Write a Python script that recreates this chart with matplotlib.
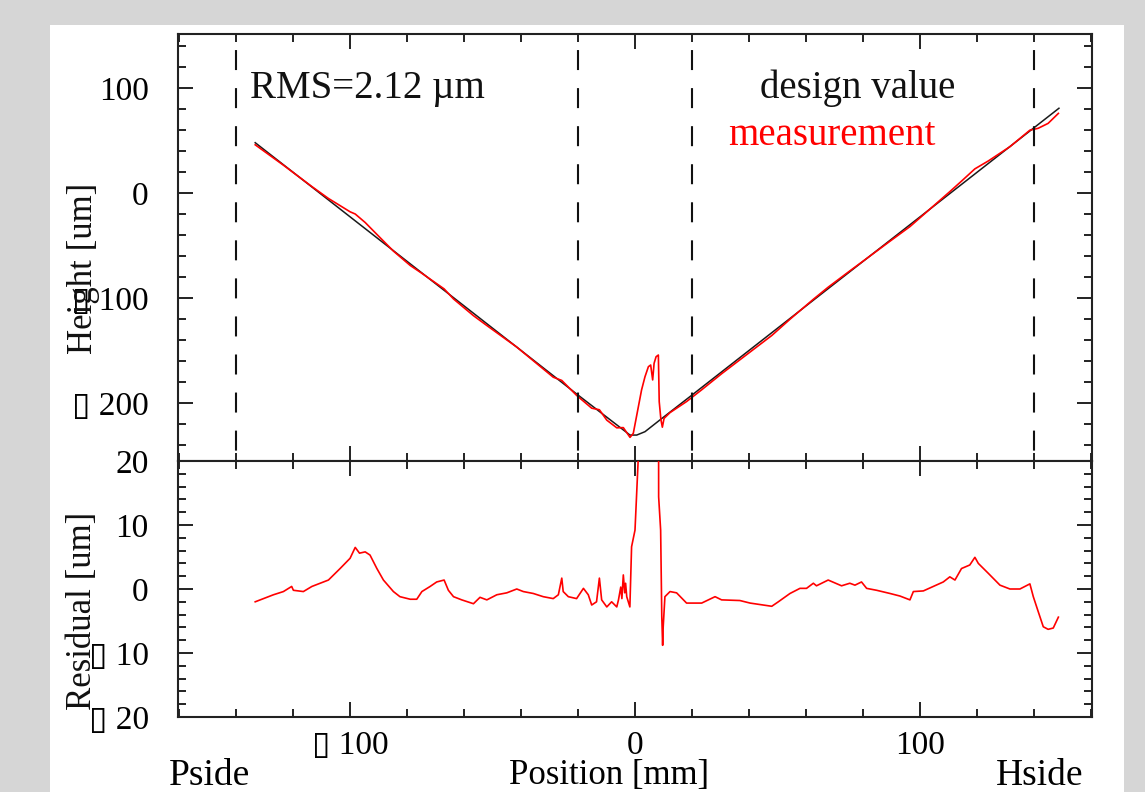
import matplotlib
matplotlib.use('Agg')
import matplotlib.pyplot as plt
from matplotlib.patches import Rectangle
from matplotlib.ticker import MultipleLocator, FixedLocator, FixedFormatter

plt.rcParams['font.family'] = ['Liberation Serif', 'DejaVu Sans']
plt.rcParams['lines.scale_dashes'] = False

# ---------------- data ----------------
design_x = [-133.3, -100.0, -50.0, -20.0, -1.75, 0.6, 3.5, 8.8, 20.0, 50.0, 100.0, 148.8]
design_y = [47.9, -22.7, -128.7, -192.4, -230.5, -230.5, -227.3, -216.0, -192.4, -128.8, -22.8, 80.7]

meas_x = [-133.3, -123.4, -113.4, -107.6, -100.0, -98.2, -94.7, -90.6, -84.8, -78.9,
          -74.8, -67.0, -63.7, -56.7, -52.0, -45.0, -41.5, -35.7, -28.7, -25.7,
          -20.5, -15.2, -12.5, -9.9, -6.4, -4.1, -1.75, -0.6, 2.3, 3.5,
          4.7, 5.5, 6.2, 6.7, 7.4, 8.2, 8.5, 9.1, 9.6, 10.2,
          12.3, 18.1, 23.4, 30.4, 40.4, 48.0, 54.4, 62.6, 67.8, 75.4,
          81.3, 89.5, 96.5, 104.7, 110.5, 114.6, 119.3, 124.0, 131.6, 138.6,
          141.5, 145.0, 148.6]
meas_y = [45.9, 26.5, 6.1, -5.2, -17.9, -20.0, -28.1, -39.4, -55.3, -69.0,
          -76.5, -91.3, -100.9, -116.8, -126.2, -139.9, -146.7, -159.7, -175.4, -178.5,
          -192.7, -204.9, -206.4, -216.3, -223.6, -223.4, -232.7, -228.9, -187.6, -175.0,
          -165.4, -163.8, -178.0, -162.2, -155.9, -154.3, -198.7, -216.0, -223.0, -214.6,
          -209.1, -198.6, -187.4, -172.1, -151.4, -135.7, -120.2, -101.2, -89.7, -74.2,
          -62.4, -45.9, -32.0, -12.5, 1.3, 11.3, 23.0, 30.5, 44.1, 59.8,
          61.6, 66.3, 75.8]

res_x = [-133.3, -126.9, -123.4, -120.5, -119.9, -116.4, -113.4, -110.5, -107.6, -103.5,
         -100.0, -98.2, -96.7, -94.7, -93.0, -90.6, -88.3, -84.8, -82.5, -78.9,
         -76.6, -74.8, -71.9, -69.6, -67.0, -65.5, -63.7, -60.8, -56.7, -54.4,
         -52.0, -48.5, -45.0, -41.5, -39.2, -35.7, -32.2, -28.7, -26.9, -25.7,
         -25.2, -23.4, -20.5, -18.1, -16.4, -15.2, -13.5, -12.5, -11.7, -9.9,
         -8.2, -6.4, -5.8, -5.0, -4.6, -4.1, -3.6, -3.3, -2.9, -1.8,
         -1.2, 0.0, 1.1, 2.3, 3.5, 4.7, 5.5, 6.2, 6.7, 7.4,
         8.2, 8.3, 9.0, 9.4, 9.7, 9.9, 10.5, 12.3, 14.6, 18.1,
         23.4, 28.1, 30.4, 36.8, 40.4, 48.0, 50.3, 54.4, 57.9, 60.2,
         62.6, 63.7, 67.8, 72.5, 75.4, 77.2, 79.5, 81.3, 84.8, 89.5,
         93.0, 96.5, 97.7, 101.2, 104.7, 108.2, 110.5, 112.3, 114.6, 117.5,
         119.3, 120.5, 124.0, 128.1, 131.6, 135.1, 138.6, 139.8, 141.5, 143.3,
         145.0, 146.8, 148.6]
res_y = [-2.0, -0.9, -0.4, 0.4, -0.2, -0.4, 0.4, 0.9, 1.4, 3.2,
         4.8, 6.5, 5.6, 5.8, 5.3, 3.2, 1.4, -0.4, -1.2, -1.6,
         -1.6, -0.4, 0.4, 1.1, 1.4, -0.2, -1.2, -1.7, -2.3, -1.3,
         -1.7, -0.9, -0.6, 0.0, -0.4, -0.7, -1.2, -1.5, -0.9, 1.7,
         -0.4, -1.2, -1.5, 0.1, -0.9, -2.5, -2.0, 1.7, -1.7, -2.8,
         -2.0, -2.8, -1.7, 0.3, -1.5, 2.2, -0.6, 0.9, -1.2, -2.8,
         6.6, 9.2, 20.0, 40.0, 52.0, 62.0, 63.0, 50.0, 63.0, 70.0,
         63.0, 14.4, 9.2, -4.3, -8.8, -5.9, -1.2, -0.4, -0.6, -2.2,
         -2.2, -1.2, -1.7, -1.8, -2.2, -2.7, -2.0, -0.7, 0.1, 0.1,
         0.9, 0.5, 1.4, 0.5, 0.9, 0.6, 1.1, 0.1, -0.2, -0.7,
         -1.1, -1.7, -0.4, -0.3, 0.4, 1.1, 1.9, 1.4, 3.2, 3.75,
         4.95, 4.0, 2.45, 0.6, 0.0, 0.0, 0.8, -1.2, -3.5, -5.9,
         -6.3, -6.1, -4.4]

boundaries = [-140, -20, 20, 140]

top_ticks = [-200, -100, 0, 100]
top_labels = ['\u25af 200', '\u25af 100', '0', '100']
bot_ticks = [-20, -10, 0, 10, 20]
bot_labels = ['\u25af 20', '\u25af 10', '0', '10', '20']
x_ticks = [-100, 0, 100]
x_labels = ['\u25af 100', '0', '100']

# ---------------- layout ----------------
W, H = 1145, 792
fig = plt.figure(figsize=(W / 100, H / 100), dpi=100, facecolor='#d6d6d6')
fig.patches.append(Rectangle((50 / W, 0), (1124 - 50) / W, (H - 25) / H,
                             transform=fig.transFigure, facecolor='white',
                             edgecolor='none', zorder=-10))

def fx(px):
    return px / W

def fy(py):
    return 1 - py / H

ax1 = fig.add_axes([fx(178), fy(461), fx(1092) - fx(178), fy(34) - fy(461)])
ax2 = fig.add_axes([fx(178), fy(717), fx(1092) - fx(178), fy(461) - fy(717)])

for ax in (ax1, ax2):
    ax.set_zorder(1)
    ax.set_facecolor('white')
    ax.set_xlim(-160.4, 160.4)
    for s in ax.spines.values():
        s.set_linewidth(1.5)
        s.set_color('#222222')
    ax.xaxis.set_major_locator(FixedLocator(x_ticks))
    ax.xaxis.set_minor_locator(MultipleLocator(20))
    ax.tick_params(which='both', direction='in', top=True, right=True,
                   color='#222222', width=1.4)
    ax.tick_params(which='major', length=11, labelsize=24, pad=21)
    ax.tick_params(which='minor', length=5.5)
    ax.tick_params(axis='x', which='major', pad=10)

ax1.set_ylim(-255.2, 151.4)
ax1.yaxis.set_major_locator(FixedLocator(top_ticks))
ax1.yaxis.set_major_formatter(FixedFormatter(top_labels))
ax1.yaxis.set_minor_locator(MultipleLocator(20))
ax1.tick_params(axis='x', labelbottom=False)

ax2.set_ylim(-20, 20)
ax2.yaxis.set_major_locator(FixedLocator(bot_ticks))
ax2.yaxis.set_major_formatter(FixedFormatter(bot_labels))
ax2.yaxis.set_minor_locator(MultipleLocator(2))
ax2.xaxis.set_major_formatter(FixedFormatter(x_labels))

# data lines
ax1.plot(design_x, design_y, color='#1a1a1a', lw=1.1, zorder=3)
ax1.plot(meas_x, meas_y, color='#ff0000', lw=1.2, zorder=4)
ax2.plot(res_x, res_y, color='#ff0000', lw=1.2, zorder=4)

# dashed boundaries spanning both panels
span = (461 - 717) / (461 - 34)
for b in boundaries:
    ax1.axvline(b, ymin=span, ymax=1, color='#111111', lw=1.5,
                linestyle=(0, (14.4, 13.0)), clip_on=False, zorder=5)

# texts
fig.text(fx(250), fy(98), 'RMS=2.12 \u00b5m', fontsize=28, ha='left',
         va='baseline', color='#111111', zorder=3)
fig.text(fx(760), fy(98), 'design value', fontsize=28, ha='left',
         va='baseline', color='#111111', zorder=3)
fig.text(fx(728), fy(145), 'measurement', fontsize=28, ha='left',
         va='baseline', color='#ff0000', zorder=3)

fig.text(fx(83), fy(268), 'Height [um]', rotation=90, fontsize=25,
         ha='center', va='center', color='#111111', zorder=3)
fig.text(fx(83), fy(611), 'Residual [um]', rotation=90, fontsize=25,
         ha='center', va='center', color='#111111', zorder=3)

fig.text(fx(209), fy(785), 'Pside', fontsize=27, ha='center', va='baseline', zorder=3)
fig.text(fx(1040), fy(785), 'Hside', fontsize=27, ha='center', va='baseline', zorder=3)
fig.text(fx(609), fy(784), 'Position [mm]', fontsize=25, ha='center', va='baseline', zorder=3)

fig.savefig('out.png', dpi=100, facecolor=fig.get_facecolor())
